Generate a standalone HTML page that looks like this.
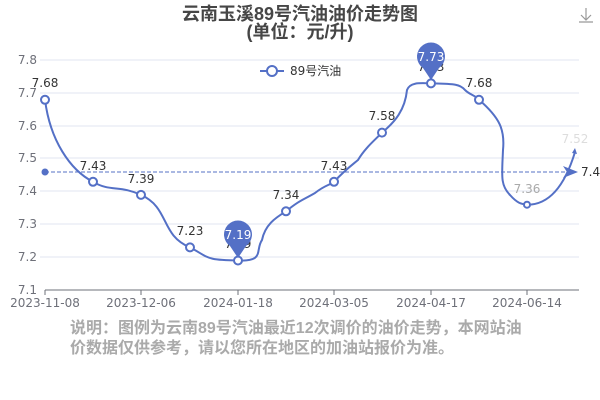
<!DOCTYPE html>
<html><head><meta charset="utf-8"><style>
body{margin:0;background:#fff;}
svg{display:block;font-family:"DejaVu Sans","Noto Sans CJK SC",sans-serif;}
</style></head><body>
<svg width="600" height="400" viewBox="0 0 600 400">
<text x="300" y="20" text-anchor="middle" font-size="18" font-weight="bold" fill="#464646" font-family="Liberation Sans,Noto Sans CJK SC,sans-serif">云南玉溪89号汽油油价走势图</text>
<text x="300" y="38" text-anchor="middle" font-size="18" font-weight="bold" fill="#464646" font-family="Liberation Sans,Noto Sans CJK SC,sans-serif">(单位：元/升)</text>
<g stroke="#999" fill="none" stroke-width="1.2"><path d="M586 8v12M581 15l5 5 5-5M579 22h14"/></g>
<g stroke="#e0e6f1" stroke-width="1">
<line x1="40" y1="60" x2="579" y2="60"/><line x1="40" y1="93" x2="579" y2="93"/><line x1="40" y1="126" x2="579" y2="126"/><line x1="40" y1="158" x2="579" y2="158"/><line x1="40" y1="191" x2="579" y2="191"/><line x1="40" y1="224" x2="579" y2="224"/><line x1="40" y1="257" x2="579" y2="257"/>
</g>
<line x1="45" y1="290" x2="579" y2="290" stroke="#6e7079"/>
<g stroke="#6e7079"><line x1="45" y1="290" x2="45" y2="295"/><line x1="141" y1="290" x2="141" y2="295"/><line x1="238" y1="290" x2="238" y2="295"/><line x1="334" y1="290" x2="334" y2="295"/><line x1="431" y1="290" x2="431" y2="295"/><line x1="527" y1="290" x2="527" y2="295"/></g>
<g font-size="12" fill="#6e7079" text-anchor="end">
<text x="37" y="64">7.8</text><text x="37" y="97">7.7</text><text x="37" y="130">7.6</text><text x="37" y="162">7.5</text><text x="37" y="195">7.4</text><text x="37" y="228">7.3</text><text x="37" y="261">7.2</text><text x="37" y="294">7.1</text>
</g>
<g font-size="12" fill="#6e7079" text-anchor="middle">
<text x="45" y="307">2023-11-08</text><text x="141" y="307">2023-12-06</text><text x="238" y="307">2024-01-18</text><text x="334" y="307">2024-03-05</text><text x="431" y="307">2024-04-17</text><text x="527" y="307">2024-06-14</text>
</g>
<line x1="45" y1="172" x2="568" y2="172" stroke="#5470c6" stroke-dasharray="4,2"/>
<circle cx="45" cy="172" r="3.5" fill="#5470c6"/>
<path d="M578 172l-15-6 4 6-4 6z" fill="#5470c6"/>
<text x="581" y="176" font-size="12" fill="#333">7.4</text>
<path fill="none" stroke="#5470c6" stroke-width="2" d="M45 99.8C50 140 70 170 93 181.8C110 192 120 185 141 194.9C170 208 160 235 190 247.4C210 258 205 260 238 260.5C265 262 255 250 262 240C265 225 275 218 286 211.3C300 200 303 200 315 193C325 185 330 185 334 181.8C345 170 352 165 358 160C365 148 375 140 382 132.6C395 122 405 110 407 90C410 82 420 83 431 83.4C455 84 460 84 465 90C470 95 475 95 479 99.8C500 118 505 130 503 150C502 175 500 185 510 195C518 204 522 204 527 204.7C550 205 565 185 575 152"/>
<path d="M575 148l2 6-5-1z" fill="#5470c6"/>
<g fill="#fff" stroke="#5470c6" stroke-width="2">
<circle cx="45" cy="99.8" r="4"/><circle cx="93" cy="181.8" r="4"/><circle cx="141" cy="194.9" r="4"/><circle cx="190" cy="247.4" r="4"/><circle cx="238" cy="260.5" r="4"/><circle cx="286" cy="211.3" r="4"/><circle cx="334" cy="181.8" r="4"/><circle cx="382" cy="132.6" r="4"/><circle cx="431" cy="83.4" r="4"/><circle cx="479" cy="99.8" r="4"/><circle cx="527" cy="204.7" r="3"/>
</g>
<g font-size="12" fill="#333" text-anchor="middle">
<text x="45" y="87">7.68</text><text x="93" y="170">7.43</text><text x="141" y="183">7.39</text><text x="190" y="235">7.23</text><text x="238" y="248">7.19</text><text x="286" y="199">7.34</text><text x="334" y="170">7.43</text><text x="382" y="120">7.58</text><text x="431" y="71">7.73</text><text x="479" y="87">7.68</text>
<text x="527" y="193" fill="#aaa">7.36</text><text x="575" y="143" fill="#ddd">7.52</text>
</g>
<path d="M238 258l-8-12a14 14 0 1 1 16 0z" fill="#5470c6"/>
<text x="238" y="239" font-size="12" fill="#fff" text-anchor="middle">7.19</text>
<path d="M431 80l-8-12a14 14 0 1 1 16 0z" fill="#5470c6"/>
<text x="431" y="61" font-size="12" fill="#fff" text-anchor="middle">7.73</text>
<line x1="260" y1="71" x2="284" y2="71" stroke="#5470c6" stroke-width="2"/>
<circle cx="272" cy="71" r="5" fill="#fff" stroke="#5470c6" stroke-width="2"/>
<text x="290" y="75" font-size="12" fill="#333">89号汽油</text>
<g font-size="16" fill="#aaa" font-weight="bold" font-family="Liberation Sans,Noto Sans CJK SC,sans-serif">
<text x="70" y="333">说明：图例为云南89号汽油最近12次调价的油价走势，本网站油</text>
<text x="70" y="353">价数据仅供参考，请以您所在地区的加油站报价为准。</text>
</g>
</svg>
</body></html>
